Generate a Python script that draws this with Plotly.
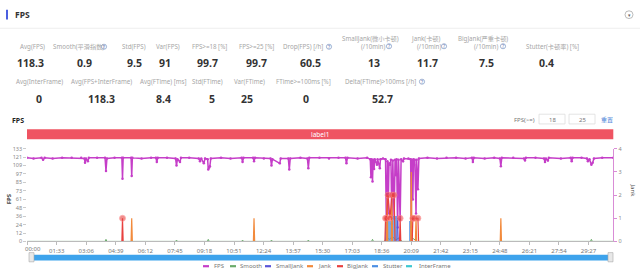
import plotly.graph_objects as go

# ---------------- data ----------------
stat_labels_1 = ["Avg(FPS)", "Smooth(平滑指数)", "Std(FPS)", "Var(FPS)", "FPS>=18 [%]", "FPS>=25 [%]",
                 "Drop(FPS) [/h]", "SmallJank(微小卡顿)|(/10min)", "Jank(卡顿)|(/10min)",
                 "BigJank(严重卡顿)|(/10min)", "Stutter(卡顿率) [%]"]
stat_values_1 = ["118.3", "0.9", "9.5", "91", "99.7", "99.7", "60.5", "13", "11.7", "7.5", "0.4"]
stat_labels_2 = ["Avg(InterFrame)", "Avg(FPS+InterFrame)", "Avg(FTime) [ms]", "Std(FTime)",
                 "Var(FTime)", "FTime>=100ms [%]", "Delta(FTime)>100ms [/h]"]
stat_values_2 = ["0", "118.3", "8.4", "5", "25", "0", "52.7"]

x_tick_seconds = [0, 93, 186, 279, 372, 465, 558, 651, 744, 837, 930, 1023, 1116, 1209, 1302,
                  1395, 1488, 1581, 1674, 1767]
x_tick_labels = ["00:00", "01:33", "03:06", "04:39", "06:12", "07:45", "09:18", "10:51", "12:24",
                 "13:57", "15:30", "17:03", "18:36", "20:09", "21:42", "23:15", "24:48", "26:21",
                 "27:54", "29:27"]
y_tick_labels = ["0", "12", "24", "36", "48", "61", "73", "85", "97", "109", "121", "133"]
y2_tick_values = [0, 1, 2, 3, 4]

fps_t = [0, 20, 45, 50, 55, 80, 110, 140, 170, 180, 182, 185, 191, 194, 220, 245, 248, 251, 275,
         298, 300, 302, 327, 329, 331, 360, 390, 405, 408, 411, 440, 467, 470, 473, 481, 484, 510,
         540, 544, 548, 556, 560, 568, 570, 573, 575, 578, 610, 640, 675, 678, 681, 711, 714, 717,
         745, 766, 769, 772, 795, 798, 822, 825, 828, 860, 882, 885, 888, 920, 950, 980, 1002,
         1005, 1008, 1040, 1070, 1080, 1082, 1084, 1087, 1089, 1092, 1094, 1101, 1103, 1110, 1112,
         1120, 1128, 1131, 1134, 1136, 1139, 1142, 1145, 1148, 1151, 1155, 1158, 1161, 1163, 1166,
         1169, 1174, 1177, 1183, 1186, 1200, 1207, 1209, 1211, 1214, 1216, 1218, 1220, 1224, 1226,
         1230, 1233, 1260, 1290, 1320, 1350, 1380, 1400, 1403, 1406, 1440, 1470, 1488, 1491, 1494,
         1530, 1564, 1567, 1570, 1600, 1627, 1630, 1633, 1639, 1642, 1680, 1711, 1714, 1717, 1745,
         1762, 1765, 1770, 1776, 1780, 1784, 1810, 1845]
fps_v = [120, 119, 120, 117, 120, 119, 120, 120, 120, 119, 113, 119, 115, 120, 120, 120, 101, 119,
         120, 120, 90, 120, 120, 94, 120, 119, 120, 120, 114, 120, 120, 119, 109, 118, 114, 120,
         120, 119, 115, 119, 112, 119, 118, 103, 106, 108, 119, 120, 119, 120, 114, 120, 120, 115,
         120, 119, 119, 109, 118, 112, 119, 119, 103, 119, 120, 119, 105, 120, 120, 119, 120, 120,
         112, 120, 119, 120, 118, 92, 118, 86, 117, 104, 118, 110, 118, 105, 118, 119, 118, 12,
         115, 40, 112, 110, 117, 25, 116, 33, 117, 95, 118, 20, 117, 30, 118, 115, 119, 119, 118,
         20, 117, 60, 118, 110, 117, 40, 117, 75, 119, 120, 119, 120, 120, 119, 120, 114, 120, 119,
         120, 119, 108, 120, 120, 119, 116, 120, 120, 119, 114, 119, 116, 120, 119, 120, 115, 120,
         120, 119, 115, 118, 110, 113, 119, 120, 120]

smooth_t = [0, 245, 248, 251, 467, 470, 473, 567, 570, 573, 675, 678, 681, 766, 769, 772, 882, 885,
            888, 1084, 1087, 1090, 1125, 1131, 1140, 1150, 1160, 1170, 1180, 1205, 1212, 1220, 1228,
            1488, 1491, 1494, 1773, 1776, 1779, 1845]
smooth_v = [0, 0, 3, 0, 0, 2, 0, 0, 3, 0, 0, 2, 0, 0, 2, 0, 0, 2, 0, 0, 3, 0, 0, 6, 3, 7, 2, 5,
            0, 0, 5, 3, 0, 0, 2, 0, 0, 3, 0, 0]

smalljank_t = [1129, 1131, 1133, None, 1164, 1166, 1168]
smalljank_v = [0, 1, 0, None, 0, 1, 0]

jank_t = [327, 329, 331, None, 712, 714, 716, None, 1131, 1133, 1135, None, 1146, 1148, 1150, None,
          1207, 1209, 1211, None, 1222, 1224, 1226, None, 1489, 1491, 1493]
jank_v = [0, 1, 0, None, 0, 1, 0, None, 0, 2, 0, None, 0, 2, 0, None,
          0, 3, 0, None, 0, 1, 0, None, 0, 1, 0]

bigjank_t = [298, 300, 302, None, 1126, 1128, 1131, 1136, 1142, 1148, 1155, 1158, None,
             1172, 1174, 1176, None, 1212, 1214, 1218, 1230, 1232]
bigjank_v = [0, 1, 0, None, 0, 1, 1, 2, 1, 2, 2, 0, None, 0, 1, 0, None, 0, 1, 1, 1, 0]

stutter_start = [1128, 1150, 1201]
stutter_end = [1147, 1165, 1212]
stutter_v = [0.9, 1.1, 0.9]

interframe_t = [0, 1845]
interframe_v = [0, 0]

legend_names = ["FPS", "Smooth", "SmallJank", "Jank", "BigJank", "Stutter", "InterFrame"]

# ---------------- styles ----------------
C_FPS = "#c53ec8"
C_SMOOTH = "#6aab6a"
C_SMALL = "#5a55d8"
C_JANK = "#f28a3c"
C_BIG = "#e8413f"
C_STUT = "#4b8fe3"
C_INTER = "#3ec8d0"
legend_colors = [C_FPS, C_SMOOTH, C_SMALL, C_JANK, C_BIG, C_STUT, C_INTER]
FONT = "Noto Sans, Noto Sans CJK SC, sans-serif"
LABEL_C = "#a6a6a6"

W, H = 640, 277


def px(x):
    return x / W


def py(y):
    return 1 - y / H


fig = go.Figure()

fig.add_trace(go.Bar(
    x=[(s + e) / 2 for s, e in zip(stutter_start, stutter_end)],
    y=stutter_v, width=[e - s for s, e in zip(stutter_start, stutter_end)],
    marker=dict(color="rgba(75,143,227,0.75)", line=dict(width=0)),
    yaxis="y2", showlegend=False, hoverinfo="skip"))
fig.add_trace(go.Scatter(x=smooth_t, y=smooth_v, mode="lines",
                         line=dict(color=C_SMOOTH, width=1), showlegend=False))
fig.add_trace(go.Scatter(x=interframe_t, y=interframe_v, mode="lines",
                         line=dict(color="#9fb8a8", width=0.8), showlegend=False))
fig.add_trace(go.Scatter(x=fps_t, y=fps_v, mode="lines+markers",
                         line=dict(color=C_FPS, width=1.5), marker=dict(size=2.5, color=C_FPS),
                         showlegend=False))
fig.add_trace(go.Scatter(x=smalljank_t, y=smalljank_v, mode="lines", yaxis="y2",
                         line=dict(color=C_SMALL, width=1), showlegend=False))
fig.add_trace(go.Scatter(x=jank_t, y=jank_v, mode="lines", yaxis="y2",
                         line=dict(color=C_JANK, width=1.2), showlegend=False))
fig.add_trace(go.Scatter(x=bigjank_t, y=bigjank_v, mode="lines+markers", yaxis="y2",
                         line=dict(color=C_BIG, width=1.2),
                         marker=dict(size=[6 if (v or 0) > 0 else 0 for v in bigjank_v],
                                     color="rgba(232,65,63,0.85)",
                                     line=dict(color="rgba(255,140,140,0.8)", width=1)),
                         showlegend=False))

ann = []
shapes = []


def text(x, y, s, size, color, bold=False, xanchor="center", angle=0):
    ann.append(dict(x=px(x), y=py(y), xref="paper", yref="paper", text=("<b>%s</b>" % s) if bold else s,
                    showarrow=False, xanchor=xanchor, yanchor="middle", textangle=angle,
                    font=dict(size=size, color=color, family=FONT)))


def qmark(x, y):
    shapes.append(dict(type="circle", xref="paper", yref="paper", x0=px(x - 2.6), x1=px(x + 2.6),
                       y0=py(y + 2.6), y1=py(y - 2.6), line=dict(color="#8aa0c8", width=0.8)))
    text(x, y, "?", 4.5, "#8aa0c8", bold=True)


# header
shapes.append(dict(type="rect", xref="paper", yref="paper", x0=px(6), x1=px(8), y0=py(16), y1=py(6),
                   fillcolor="#4b5fe0", line=dict(width=0)))
text(13, 11, "FPS", 8.5, "#333", bold=True, xanchor="left")
shapes.append(dict(type="line", xref="paper", yref="paper", x0=0, x1=1, y0=py(25), y1=py(25),
                   line=dict(color="#eeeeee", width=1)))
shapes.append(dict(type="circle", xref="paper", yref="paper", x0=px(625), x1=px(633), y0=py(15),
                   y1=py(7), line=dict(color="#aaa", width=0.8)))
text(629, 11.3, "▾", 5, "#666")

# stats row 1
lab1_x = [32.5, 78, 133.5, 168, 209, 256, 303, 370, 426, 483, 552]
val1_x = [30, 84, 134, 165, 207, 256, 310, 374, 427, 486, 546]
for lab, val, lx, vx in zip(stat_labels_1, stat_values_1, lab1_x, val1_x):
    if "|" in lab:
        a, b = lab.split("|")
        text(lx, 36, a, 6.2, LABEL_C)
        text(lx + 3, 43.5, b, 6.2, LABEL_C)
    else:
        text(lx, 44, lab, 6.2, LABEL_C)
    text(vx, 61, val, 10.5, "#333", bold=True)
qmark(104, 44)
qmark(329, 44)
qmark(389, 43.5)
qmark(444, 43.5)
qmark(503, 43.5)

# stats row 2
lab2_x = [39, 101, 163, 207, 249, 303, 380]
val2_x = [39, 101, 163, 212, 247, 306, 382]
for lab, val, lx, vx in zip(stat_labels_2, stat_values_2, lab2_x, val2_x):
    text(lx, 80, lab, 6.2, LABEL_C)
    text(vx, 98, val, 10.5, "#333", bold=True)
qmark(422, 80)

# chart title and controls
text(10, 120, "FPS", 7, "#222", bold=True, xanchor="left")
text(524, 119, "FPS(>=)", 6, "#777")
for x0, x1, s in [(539, 565, "18"), (569, 595, "25")]:
    shapes.append(dict(type="rect", xref="paper", yref="paper", x0=px(x0), x1=px(x1), y0=py(123.5),
                       y1=py(113.5), line=dict(color="#dddddd", width=0.8), fillcolor="white"))
    text((x0 + x1) / 2, 119, s, 6, "#777")
text(607, 119, "重置", 6, "#4a7fd8")

# label bar
shapes.append(dict(type="rect", xref="paper", yref="paper", x0=px(27), x1=px(613.3), y0=py(139.3),
                   y1=py(129), fillcolor="#ef5462", line=dict(width=0)))
text(320, 134.2, "label1", 6.5, "white")

# axis titles
text(9, 201, "FPS", 6, "#444", bold=True, angle=-90)
text(633, 192, "Jank", 6, "#555", angle=90)
text(33, 252, x_tick_labels[0], 6, "#777")

# slider
shapes.append(dict(type="rect", xref="paper", yref="paper", x0=px(30), x1=px(611), y0=py(264),
                   y1=py(258.3), fillcolor="#3da3ec", line=dict(width=0)))
for hx in (31.5, 610.5):
    shapes.append(dict(type="rect", xref="paper", yref="paper", x0=px(hx - 2.5), x1=px(hx + 2.5),
                       y0=py(265.5), y1=py(256), fillcolor="#e8e8e8", line=dict(color="#aaa", width=0.6)))

# legend
sw_x = [203, 230, 265, 307, 337, 372, 406]
tx_x = [212, 238, 274, 316, 345, 381, 417]
for name, col, sx, tx in zip(legend_names, legend_colors, sw_x, tx_x):
    shapes.append(dict(type="line", xref="paper", yref="paper", x0=px(sx), x1=px(sx + 6), y0=py(270),
                       y1=py(270), line=dict(color=col, width=2.2)))
    text(tx, 270, name, 6, "#777", xanchor="left")

fig.update_layout(
    width=W, height=H, margin=dict(l=0, r=0, t=0, b=0),
    paper_bgcolor="white", plot_bgcolor="white",
    font=dict(family=FONT),
    showlegend=False, bargap=0,
    annotations=ann, shapes=shapes,
    xaxis=dict(domain=[px(27.2), px(613.3)], range=[0, 1845], tickmode="array",
               tickvals=x_tick_seconds, ticktext=[""] + x_tick_labels[1:],
               tickfont=dict(size=6, color="#777"), ticks="outside", ticklen=3, tickcolor="#bbb",
               showline=True, linecolor="#bbb", linewidth=1, showgrid=False, zeroline=False),
    yaxis=dict(domain=[py(244.5), py(149)], range=[0, 133], tickmode="array",
               tickvals=[i * 133 / 11 for i in range(12)], ticktext=y_tick_labels,
               tickfont=dict(size=5.5, color="#888"), ticks="outside", ticklen=3, tickcolor="#ccc",
               showline=False, showgrid=False, zeroline=False),
    yaxis2=dict(overlaying="y", side="right", range=[0, 4], tickmode="array",
                tickvals=y2_tick_values, tickfont=dict(size=5.5, color="#888"), ticks="outside",
                ticklen=3, tickcolor="#d98cd6", showline=True, linecolor="#d98cd6", linewidth=1,
                showgrid=False, zeroline=False, anchor="x"),
)

fig.write_html("out.html")
